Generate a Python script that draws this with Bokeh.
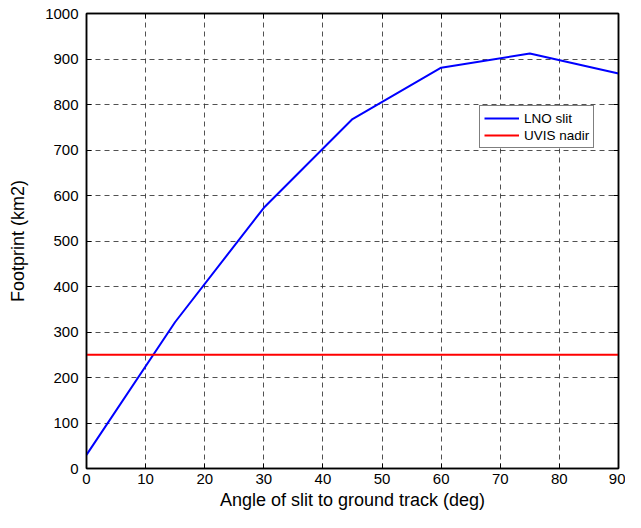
from bokeh.plotting import figure
from bokeh.models import LinearAxis, Range1d, FixedTicker, Legend, LegendItem, CustomJSTickFormatter
from bokeh.embed import file_html
from bokeh.resources import INLINE

angles = [0, 15, 30, 45, 60, 75, 90]
lno_slit = [30, 322, 573, 768, 881, 912, 868]
uvis_nadir = [250, 250, 250, 250, 250, 250, 250]
x_ticks = [0, 10, 20, 30, 40, 50, 60, 70, 80, 90]
y_ticks = [0, 100, 200, 300, 400, 500, 600, 700, 800, 900, 1000]

FONT = "Liberation Sans"

p = figure(width=625, height=512, output_backend="svg", toolbar_location=None,
           x_range=Range1d(0, 90), y_range=Range1d(0, 1000),
           min_border_left=86, min_border_right=7, min_border_top=13, min_border_bottom=42)

p.outline_line_color = "black"
p.outline_line_width = 1.5
p.background_fill_color = "white"
p.border_fill_color = "white"

for ax in (p.xaxis[0], p.yaxis[0]):
    ax.axis_line_width = 1.5
    ax.axis_line_color = "black"
    ax.major_tick_in = 5
    ax.major_tick_out = 0
    ax.minor_tick_in = 0
    ax.minor_tick_out = 0
    ax.major_label_text_font = FONT
    ax.major_label_text_font_size = "15px"
    ax.major_label_text_color = "black"
    ax.axis_label_text_font = FONT
    ax.axis_label_text_font_size = "18px"
    ax.axis_label_text_font_style = "normal"
    ax.axis_label_text_color = "black"

p.xaxis[0].ticker = FixedTicker(ticks=x_ticks)
p.yaxis[0].ticker = FixedTicker(ticks=y_ticks)
p.xaxis[0].axis_label = "Angle of slit to ground track (deg)"
p.yaxis[0].axis_label = "Footprint (km2)"
p.xaxis[0].major_label_standoff = 5
p.yaxis[0].major_label_standoff = 8
p.xaxis[0].axis_label_standoff = 3
p.yaxis[0].axis_label_standoff = 14

# mirrored tick marks on top and right
blank = CustomJSTickFormatter(code="return ''")
top = LinearAxis(ticker=FixedTicker(ticks=x_ticks), formatter=blank,
                 major_tick_in=5, major_tick_out=0, minor_tick_in=0, minor_tick_out=0,
                 axis_line_width=1.5, major_label_standoff=0)
right = LinearAxis(ticker=FixedTicker(ticks=y_ticks), formatter=blank,
                   major_tick_in=5, major_tick_out=0, minor_tick_in=0, minor_tick_out=0,
                   axis_line_width=1.5, major_label_standoff=0)
p.add_layout(top, "above")
p.add_layout(right, "right")

p.xgrid.ticker = FixedTicker(ticks=x_ticks)
p.ygrid.ticker = FixedTicker(ticks=y_ticks)
for g in (p.xgrid[0], p.ygrid[0]):
    g.grid_line_color = "#333333"
    g.grid_line_dash = "5 4"
    g.grid_line_width = 1
    g.grid_line_alpha = 0.85

r1 = p.line(angles, lno_slit, line_color="#0000ff", line_width=2)
r2 = p.line(angles, uvis_nadir, line_color="#ff0000", line_width=2)

legend = Legend(items=[LegendItem(label="LNO slit", renderers=[r1]),
                       LegendItem(label="UVIS nadir", renderers=[r2])],
                location=(393, 320))
legend.label_text_font = FONT
legend.label_text_font_size = "13.5px"
legend.label_text_color = "black"
legend.glyph_width = 35
legend.glyph_height = 16
legend.label_height = 16
legend.label_standoff = 5
legend.padding = 4
legend.spacing = 1
legend.margin = 0
legend.border_line_color = "black"
legend.border_line_width = 1.5
legend.background_fill_color = "white"
legend.background_fill_alpha = 1
p.add_layout(legend, "center")

open("out.html", "w").write(file_html(p, INLINE))
